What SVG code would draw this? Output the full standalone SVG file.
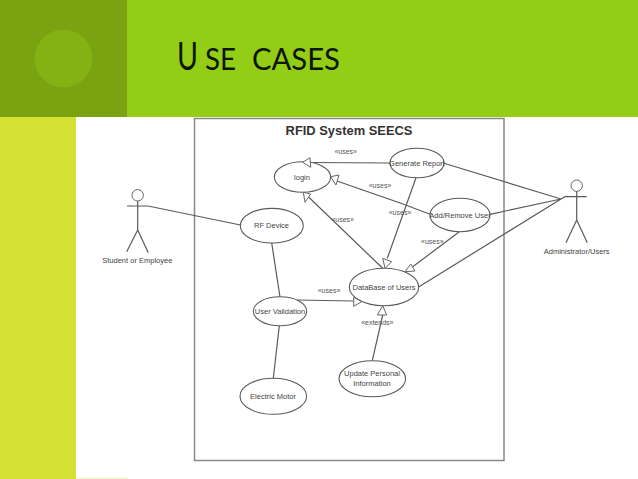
<svg xmlns="http://www.w3.org/2000/svg" width="638" height="479" viewBox="0 0 638 479">
<style>
.l{fill:none;stroke:#5a5a5a;stroke-width:1.2}
.e{fill:#fff;stroke:#5a5a5a;stroke-width:1.1}
.h{fill:#fff;stroke:#666;stroke-width:1}
.t{font-family:"Liberation Sans",Arial,sans-serif;font-size:7.5px;fill:#444;text-anchor:middle}
.s{font-family:"Liberation Sans",Arial,sans-serif;font-size:7px;fill:#555;text-anchor:middle}
.c{font-family:"Lato","Open Sans",sans-serif;fill:#0d1505}
</style>
<rect width="638" height="479" fill="#fff"/>
<g id="background">
<rect x="0" y="0" width="638" height="117" fill="#93cd15"/>
<rect x="0" y="0" width="127" height="117" fill="#7aa211"/>
<circle cx="63.500" cy="58.500" r="29" fill="#83b212"/>
<rect x="0" y="117" width="76" height="362" fill="#d4e032"/>
<rect x="76" y="477.500" width="52" height="1.500" fill="#f4f8cf"/>
<text class="c" x="177" y="70" font-size="38" textLength="21" lengthAdjust="spacingAndGlyphs">U</text>
<text class="c" x="205" y="70" font-size="30" textLength="31" lengthAdjust="spacingAndGlyphs">SE</text>
<text class="c" x="252" y="70" font-size="30" textLength="88" lengthAdjust="spacingAndGlyphs">CASES</text>
</g>
<rect id="system" x="194.500" y="118.500" width="309.500" height="342" fill="#fff" stroke="#888" stroke-width="1.500"/>
<text x="349" y="134.500" font-family="'Liberation Sans',Arial,sans-serif" font-size="12.900" font-weight="bold" fill="#333" text-anchor="middle">RFID System SEECS</text>
<g id="connectors">
<path class="l" d="M127 206H148L240.500 225M444 163.300L561 199M490 214.300L561 199M419 286.700L561 199M271.700 243L280 297M279.300 325.700L273.300 378.300M372.300 360.700L382.700 315M390 163L310 162.500M430 214.300L403 204L337 181M382.700 268.300L308.300 196.700M416 177.700L387.300 258.300M459.300 231.700L410.700 268.300M297 300L353.700 301"/>
</g>
<g id="actor-student">
<circle cx="137.700" cy="195.300" r="5.700" class="h"/>
<path class="l" d="M137.700 201V230M137.700 230L126.700 251.700M137.700 230L148.300 252.700"/>
<text class="t" x="137.300" y="263">Student or Employee</text>
</g>
<g id="actor-admin">
<circle cx="576.700" cy="185.700" r="5.700" class="h"/>
<path class="l" d="M576.700 191.500V220M561 199L565 196.700H586.700M576.700 220L566 242.700M576.700 220L587.300 242.700"/>
<text class="t" x="576.700" y="253.500">Administrator/Users</text>
</g>
<g id="login"><ellipse class="e" cx="302.500" cy="177" rx="28.200" ry="15.300"/><text class="t" x="302" y="179.500">login</text></g>
<g id="generate-report"><ellipse class="e" cx="417" cy="163" rx="27" ry="14.700"/><text class="t" x="417" y="165.500">Generate Report</text></g>
<g id="add-remove"><ellipse class="e" cx="460" cy="215" rx="30" ry="16.700"/><text class="t" x="460" y="217.500">Add/Remove User</text></g>
<g id="rf-device"><ellipse class="e" cx="271.800" cy="225.700" rx="31.500" ry="17.300"/><text class="t" x="271.500" y="228">RF Device</text></g>
<g id="database"><ellipse class="e" cx="384" cy="287" rx="34.700" ry="18.700"/><text class="t" x="384" y="289.500">DataBase of Users</text></g>
<g id="user-validation"><ellipse class="e" cx="280" cy="311.200" rx="26.700" ry="14.500"/><text class="t" x="280" y="313.500">User Validation</text></g>
<g id="electric-motor"><ellipse class="e" cx="273.300" cy="396.300" rx="33.300" ry="18"/><text class="t" x="273" y="398.500">Electric Motor</text></g>
<g id="update-info"><ellipse class="e" cx="372.300" cy="378.700" rx="33.300" ry="18"/><text class="t" x="372" y="376">Update Personal</text><text class="t" x="372" y="385.500">Information</text></g>
<g id="arrowheads">
<path class="h" d="M302.700 162.300L310 157.700L310.700 167.300ZM330.700 176.700L339 175L336 185ZM303.300 192.300L310.700 194L305 202.300ZM385 268.300L382.700 258.300L391.700 261.700ZM405 271.700L410.700 264L415 271ZM361.700 301.700L353.700 297.300V306.300ZM382.700 305.700L377.300 315H386.700Z"/>
</g>
<g id="labels">
<text class="s" x="345.700" y="154">«uses»</text>
<text class="s" x="380" y="187.500">«uses»</text>
<text class="s" x="342.700" y="221.500">«uses»</text>
<text class="s" x="400" y="214.500">«uses»</text>
<text class="s" x="432.300" y="243.500">«uses»</text>
<text class="s" x="329" y="292.500">«uses»</text>
<text class="s" x="377.300" y="324.500">«extends»</text>
</g>
</svg>
